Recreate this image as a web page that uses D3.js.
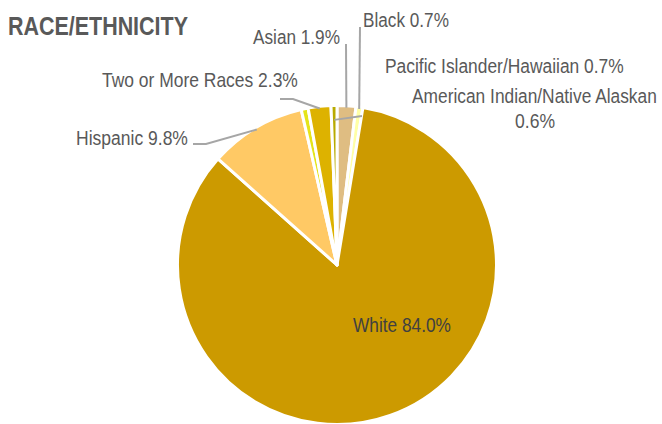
<!DOCTYPE html>
<html>
<head>
<meta charset="utf-8">
<script src="https://cdn.jsdelivr.net/npm/d3@7/dist/d3.min.js"></script>
<style>
  html, body { margin: 0; padding: 0; background: #fff; }
  svg { display: block; }
  text { font-family: "Liberation Sans Narrow", "Arial Narrow", "Liberation Sans", Arial, sans-serif; }
</style>
</head>
<body>
<svg id="chart" width="662" height="424"></svg>
<script>
// ---- data ----
const categories = ["Asian", "Black", "White", "Hispanic", "Pacific Islander/Hawaiian", "Two or More Races", "American Indian/Native Alaskan"];
const values = [1.9, 0.7, 84.0, 9.8, 0.7, 2.3, 0.6];
const labelTexts = ["Asian 1.9%", "Black 0.7%", "White 84.0%", "Hispanic 9.8%", "Pacific Islander/Hawaiian 0.7%", "Two or More Races 2.3%", "American Indian/Native Alaskan|0.6%"];
const colors = ["#DFBD82", "#FFFFA6", "#CC9A00", "#FFC965", "#E4E41A", "#DDB200", "#B8AA00"];
const title = "RACE/ETHNICITY";

// ---- layout ----
const W = 662, H = 424;
const cx = 337, cy = 265, R = 159.5;
// label layout: left x, baseline y, target width
const labelLayout = [
  { x: 253, y: 44, w: 87 },
  { x: 363, y: 27, w: 86 },
  { x: 353, y: 332, w: 98 },
  { x: 76, y: 145, w: 112 },
  { x: 385, y: 73, w: 239 },
  { x: 102, y: 87, w: 196 },
  { x: 412, y: 103, w: 245, x2: 515, y2: 128, w2: 40 }
];
// leader elbows (null = no leader)
const leaderElbows = [
  [[346, 44]],
  [[360, 27]],
  null,
  [[206, 144], [193, 144]],
  null,
  [[293, 99], [280, 99]],
  [[362, 116]]
];

const svg = d3.select("#chart");

const pie = d3.pie().sort(null).value(d => d).startAngle(0).endAngle(2 * Math.PI);
const arcs = pie(values);
const arc = d3.arc().innerRadius(0).outerRadius(R);

const g = svg.append("g").attr("transform", `translate(${cx},${cy})`);
g.selectAll("path.slice")
  .data(arcs)
  .join("path")
  .attr("class", "slice")
  .attr("d", arc)
  .attr("fill", (d, i) => colors[i])
  .attr("stroke", "#ffffff")
  .attr("stroke-width", 3)
  .attr("stroke-linejoin", "round");

// leader lines
function pointAt(angle, r) {
  return [cx + r * Math.sin(angle), cy - r * Math.cos(angle)];
}
arcs.forEach((d, i) => {
  const el = leaderElbows[i];
  if (!el) return;
  const mid = (d.startAngle + d.endAngle) / 2;
  const rr = i === 6 ? R * 0.91 : R - 2;
  const p0 = pointAt(mid, rr);
  const pts = [p0].concat(el);
  svg.append("path")
    .attr("d", d3.line()(pts))
    .attr("fill", "none")
    .attr("stroke", "#A6A6A6")
    .attr("stroke-width", 2);
});

// fitted text: scaled horizontally to a target width via transform
function fitText(str, x, y, w, size, fill, bold) {
  const t = svg.append("text")
    .attr("x", 0).attr("y", 0)
    .attr("font-size", size)
    .attr("font-weight", bold ? "bold" : "normal")
    .attr("fill", fill)
    .text(str);
  const nat = t.node().getComputedTextLength();
  const sx = nat > 0 ? w / nat : 1;
  t.attr("transform", `translate(${x},${y}) scale(${sx},1)`);
  return t;
}

// labels
labelTexts.forEach((t, i) => {
  const L = labelLayout[i];
  const parts = t.split("|");
  fitText(parts[0], L.x, L.y, L.w, 21, i === 2 ? "#404040" : "#595959", false);
  if (parts[1]) fitText(parts[1], L.x2, L.y2, L.w2, 21, "#595959", false);
});

// title
fitText(title, 8, 35, 180, 26, "#595959", true);
</script>
</body>
</html>
